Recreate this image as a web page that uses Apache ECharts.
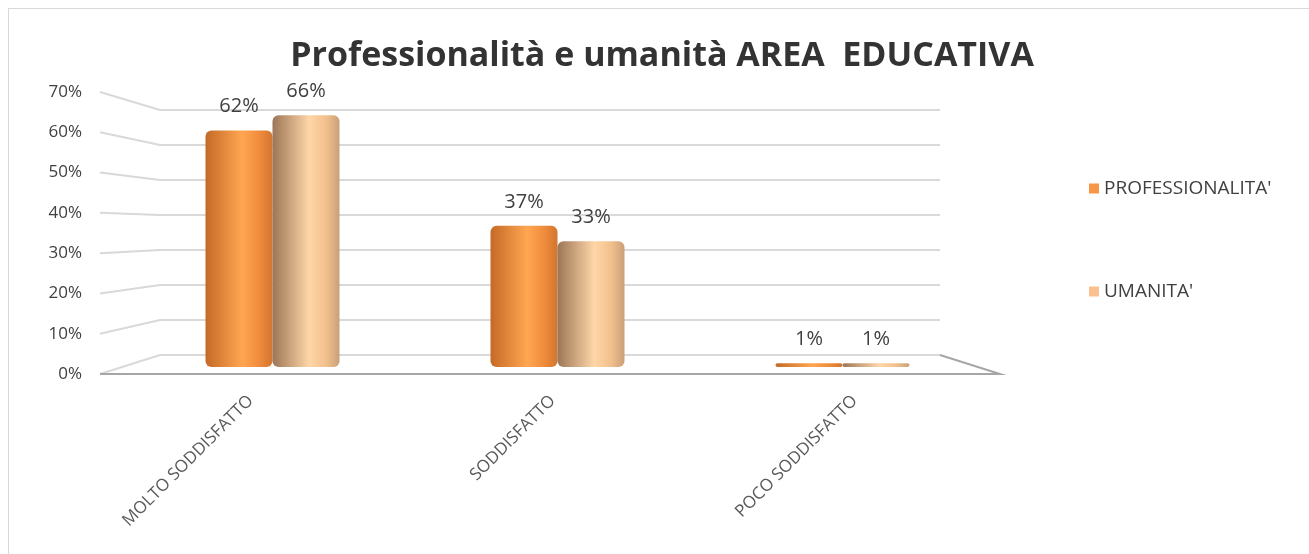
<!DOCTYPE html>
<html>
<head>
<meta charset="utf-8">
<script src="https://cdn.jsdelivr.net/npm/echarts@6/dist/echarts.min.js"></script>
<style>
  html, body { margin: 0; padding: 0; background: #fff; }
  #frame { position: absolute; left: 8px; top: 8px; width: 1310px; height: 560px; border: 1px solid #d9d9d9; }
  #main { position: absolute; left: 0; top: 0; width: 1309px; height: 554px; }
</style>
</head>
<body>
<div id="frame"></div>
<div id="main"></div>
<script>
var categories = ['MOLTO SODDISFATTO', 'SODDISFATTO', 'POCO SODDISFATTO'];
var professionalita = [62, 37, 1];
var umanita = [66, 33, 1];
var seriesNames = ["PROFESSIONALITA'", "UMANITA'"];
var yTicks = [0, 10, 20, 30, 40, 50, 60, 70];

var fontFamily = '"Open Sans", "Noto Sans", sans-serif';

function cylinder(dark, mid, light, edge) {
    return new echarts.graphic.LinearGradient(0, 0, 1, 0, [
        { offset: 0, color: dark },
        { offset: 0.55, color: light },
        { offset: 0.8, color: mid },
        { offset: 1, color: edge }
    ]);
}

var labelStyle = {
    show: true,
    position: 'top',
    distance: 14,
    formatter: '{c}%',
    color: '#404040',
    fontSize: 20,
    fontFamily: fontFamily
};

var option = {
    animation: false,
    title: {
        text: 'Professionalità e umanità AREA  EDUCATIVA',
        left: 657,
        textAlign: 'center',
        top: 34,
        textStyle: { fontSize: 34, fontWeight: 'bold', color: '#333333', fontFamily: fontFamily }
    },
    legend: {
        orient: 'vertical',
        left: 1084,
        top: 174,
        itemGap: 84,
        itemWidth: 10,
        itemHeight: 10,
        icon: 'rect',
        textStyle: { fontSize: 19, color: '#404040', fontFamily: fontFamily },
        data: [
            { name: seriesNames[0], itemStyle: { color: '#f79646' } },
            { name: seriesNames[1], itemStyle: { color: '#fac090' } }
        ]
    },
    grid: [
        // back wall (gridlines)
        { left: 160, right: 369, top: 110, bottom: 199 },
        // bars
        { left: 130, right: 324, top: 100, bottom: 187 },
        // front axis labels
        { left: 84, right: 1200, top: 92, bottom: 180 },
        // category labels (front edge, wider spacing)
        { left: 121, right: 282, top: 100, bottom: 187 }
    ],
    xAxis: [
        { gridIndex: 0, type: 'category', data: categories, show: false },
        { gridIndex: 1, type: 'category', data: categories, show: false },
        { gridIndex: 2, type: 'category', data: [''], show: false },
        {
            gridIndex: 3, type: 'category', data: categories,
            axisLine: { show: false }, axisTick: { show: false },
            axisLabel: {
                rotate: 45, margin: 10, padding: [0, 30, 0, 0],
                fontSize: 17, color: '#595959', fontFamily: fontFamily
            }
        }
    ],
    yAxis: [
        {
            gridIndex: 0, type: 'value', min: 0, max: 70, interval: 10,
            axisLabel: { show: false }, axisLine: { show: false }, axisTick: { show: false },
            splitLine: { lineStyle: { color: '#d9d9d9', width: 2 } }
        },
        {
            gridIndex: 1, type: 'value', min: 0, max: 70, interval: 10,
            axisLabel: { show: false }, axisLine: { show: false }, axisTick: { show: false },
            splitLine: { show: false }
        },
        {
            gridIndex: 2, type: 'value', min: 0, max: 70, interval: 10,
            axisLine: { show: false }, axisTick: { show: false }, splitLine: { show: false },
            axisLabel: { margin: 2, formatter: '{value}%', fontSize: 17, color: '#404040', fontFamily: fontFamily }
        },
        { gridIndex: 3, type: 'value', min: 0, max: 70, show: false }
    ],
    series: [
        {
            name: seriesNames[0],
            type: 'bar',
            xAxisIndex: 1, yAxisIndex: 1,
            barWidth: 67,
            barGap: '0%',
            data: professionalita,
            itemStyle: {
                color: cylinder('#c46a26', '#f08c3c', '#ffa652', '#d27530'),
                borderRadius: [6, 6, 6, 6]
            },
            label: labelStyle
        },
        {
            name: seriesNames[1],
            type: 'bar',
            xAxisIndex: 1, yAxisIndex: 1,
            barWidth: 67,
            data: umanita,
            itemStyle: {
                color: cylinder('#9c7656', '#f2c08c', '#ffd6a8', '#caa07a'),
                borderRadius: [6, 6, 6, 6]
            },
            label: labelStyle
        }
    ]
};

var myChart = echarts.init(document.getElementById('main'));
myChart.setOption(option);

// perspective connectors: front label scale -> back wall scale
var lines = [];
yTicks.forEach(function (v) {
    var front = myChart.convertToPixel({ gridIndex: 2 }, [0, v]);
    var back = myChart.convertToPixel({ gridIndex: 0 }, [0, v]);
    lines.push({
        type: 'polyline',
        shape: { points: [[100, front[1]], [160, back[1]]] },
        style: { stroke: '#d9d9d9', lineWidth: 2, fill: null },
        silent: true
    });
});
var f0 = myChart.convertToPixel({ gridIndex: 2 }, [0, 0]);
var b0 = myChart.convertToPixel({ gridIndex: 0 }, [0, 0]);
lines.push({
    type: 'polyline',
    shape: { points: [[100, f0[1]], [1000, f0[1]], [940, b0[1]]] },
    style: { stroke: '#a6a6a6', lineWidth: 2, fill: null },
    silent: true
});
myChart.setOption({ graphic: { elements: lines } });
</script>
</body>
</html>
